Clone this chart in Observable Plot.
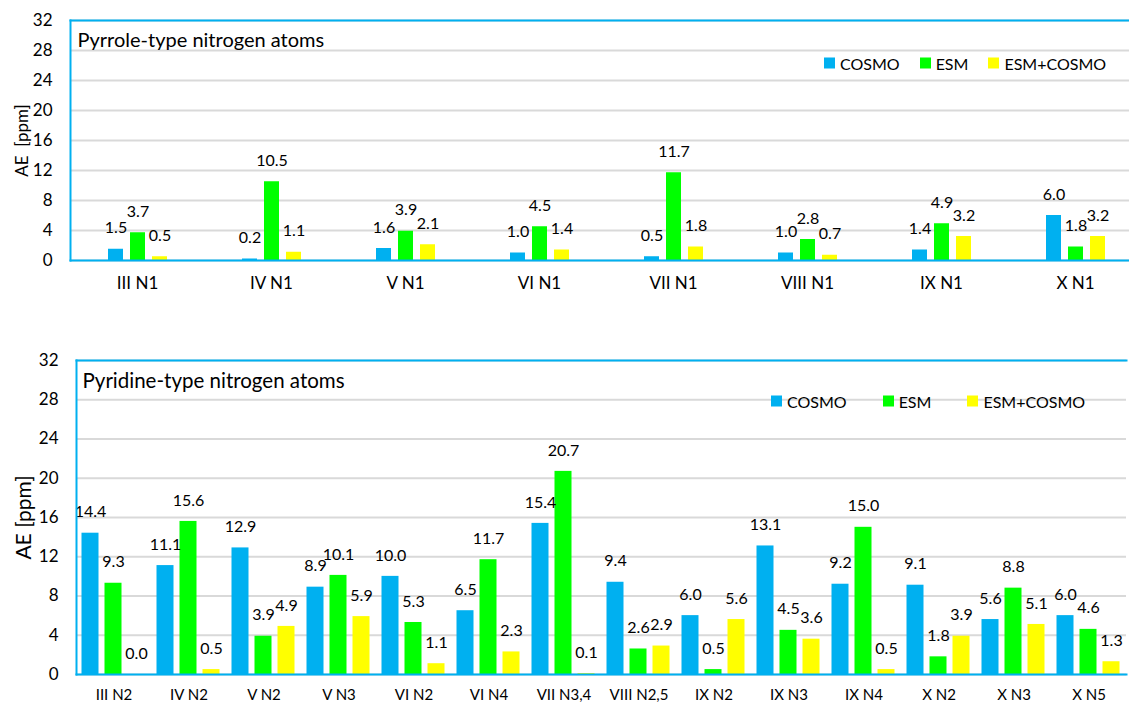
<!DOCTYPE html>
<html>
<head>
<meta charset="utf-8">
<script src="https://cdn.jsdelivr.net/npm/d3@7"></script>
<script src="https://cdn.jsdelivr.net/npm/@observablehq/plot@0.6"></script>
<style>
  html, body { margin: 0; padding: 0; background: #fff; overflow: hidden; }
  body { width: 1129px; height: 702px; position: relative; font-family: Lato, sans-serif; }
  .panel { position: absolute; left: 0; width: 1129px; }
  .legend { position: absolute; display: flex; align-items: center; font: 16px Lato, sans-serif; color: #000; transform: translateY(-50%); }
  .legend .item { display: flex; align-items: center; }
  .legend .sw { width: 11px; height: 11px; display: inline-block; margin-right: 5px; }
</style>
</head>
<body>
<div id="pyrrole" class="panel" style="top:0"></div>
<div id="pyridine" class="panel" style="top:340px"></div>
<script>
// Methods compared and their bar colours
const series = ["COSMO", "ESM", "ESM+COSMO"];
const seriesColors = ["#00b0f0", "#00ff00", "#ffff00"];
const yTicks = [0, 4, 8, 12, 16, 20, 24, 28, 32];
const frameBlue = "#00b0f0";

// Pyrrole-type nitrogen atoms: absolute error (ppm)
const pyrroleSites = ["III N1", "IV N1", "V N1", "VI N1", "VII N1", "VIII N1", "IX N1", "X N1"];
const pyrroleCosmo = [1.5, 0.2, 1.6, 1.0, 0.5, 1.0, 1.4, 6.0];
const pyrroleEsm = [3.7, 10.5, 3.9, 4.5, 11.7, 2.8, 4.9, 1.8];
const pyrroleEsmCosmo = [0.5, 1.1, 2.1, 1.4, 1.8, 0.7, 3.2, 3.2];

// Pyridine-type nitrogen atoms: absolute error (ppm)
const pyridineSites = ["III N2", "IV N2", "V N2", "V N3", "VI N2", "VI N4", "VII N3,4", "VIII N2,5", "IX N2", "IX N3", "IX N4", "X N2", "X N3", "X N5"];
const pyridineCosmo = [14.4, 11.1, 12.9, 8.9, 10.0, 6.5, 15.4, 9.4, 6.0, 13.1, 9.2, 9.1, 5.6, 6.0];
const pyridineEsm = [9.3, 15.6, 3.9, 10.1, 5.3, 11.7, 20.7, 2.6, 0.5, 4.5, 15.0, 1.8, 8.8, 4.6];
const pyridineEsmCosmo = [0.0, 0.5, 4.9, 5.9, 1.1, 2.3, 0.1, 2.9, 5.6, 3.6, 0.5, 3.9, 5.1, 1.3];

function panel(cfg) {
  const rows = cfg.sites.flatMap((site, i) =>
    series.map((s, j) => ({site, series: s, value: cfg.values[j][i]})));
  return Plot.plot({
    width: 1129,
    height: cfg.height,
    marginTop: 20,
    marginBottom: cfg.marginBottom,
    marginLeft: cfg.marginLeft,
    marginRight: cfg.marginRight,
    style: {fontFamily: "Lato, sans-serif", color: "#000", background: "transparent"},
    fx: {domain: cfg.sites, padding: 0},
    x: {domain: series, paddingInner: cfg.inner[0], paddingOuter: cfg.inner[1], axis: null},
    y: {domain: [0, 32]},
    color: {domain: series, range: seriesColors},
    marks: [
      Plot.gridY(yTicks, {stroke: "#d9d9d9", strokeOpacity: 1, strokeWidth: 2}),
      Plot.barY(rows, {fx: "site", x: "series", y: "value", fill: "series"}),
      Plot.text(rows, {
        fx: "site", x: "series", y: "value",
        text: d => d.value.toFixed(1),
        dy: -21, lineAnchor: "middle", fontSize: 16, fill: "#000"
      }),
      Plot.frame({anchor: "top", facet: "super", stroke: frameBlue, strokeWidth: 2}),
      Plot.frame({anchor: "left", facet: "super", stroke: frameBlue, strokeWidth: 2}),
      Plot.frame({anchor: "bottom", facet: "super", stroke: frameBlue, strokeWidth: 2}),
      Plot.axisY(yTicks, {tickSize: 0, tickPadding: 18, fontSize: 17, label: null}),
      Plot.axisFx({anchor: "bottom", tickSize: 0, tickPadding: cfg.sitePadding, fontSize: cfg.siteFont, label: null}),
      Plot.text([cfg.title], {
        frameAnchor: "top-left", facet: "super", dx: cfg.titleDx, dy: cfg.titleDy,
        textAnchor: "start", lineAnchor: "middle", fontSize: cfg.titleFont, fill: "#000"
      }),
      Plot.text([cfg.yLabel], {
        frameAnchor: "left", facet: "super", rotate: -90, dx: cfg.yLabelDx,
        textAnchor: "middle", lineAnchor: "middle", fontSize: cfg.yLabelFont, fill: "#000"
      })
    ]
  });
}

function legend(left, y, gap) {
  const div = document.createElement("div");
  div.className = "legend";
  div.style.left = left + "px";
  div.style.top = y + "px";
  series.forEach((s, i) => {
    const item = document.createElement("span");
    item.className = "item";
    if (i < series.length - 1) item.style.marginRight = gap + "px";
    const sw = document.createElement("span");
    sw.className = "sw";
    sw.style.background = seriesColors[i];
    item.appendChild(sw);
    item.appendChild(document.createTextNode(s));
    div.appendChild(item);
  });
  return div;
}

const pyrrolePanel = document.getElementById("pyrrole");
pyrrolePanel.appendChild(panel({
  sites: pyrroleSites,
  values: [pyrroleCosmo, pyrroleEsm, pyrroleEsmCosmo],
  title: "Pyrrole-type nitrogen atoms",
  yLabel: "AE  [ppm]",
  height: 340, marginBottom: 80, marginLeft: 70, marginRight: -13,
  inner: [0.336, 1.633],
  siteFont: 17, sitePadding: 16,
  titleFont: 20, titleDx: 7, titleDy: 20,
  yLabelFont: 17, yLabelDx: -48
}));
pyrrolePanel.appendChild(legend(824, 63, 20));

const pyridinePanel = document.getElementById("pyridine");
pyridinePanel.appendChild(panel({
  sites: pyridineSites,
  values: [pyridineCosmo, pyridineEsm, pyridineEsmCosmo],
  title: "Pyridine-type nitrogen atoms",
  yLabel: "AE [ppm]",
  height: 362, marginBottom: 28, marginLeft: 72.5, marginRight: 0,
  inner: [0.244, 0.207],
  siteFont: 15, sitePadding: 15,
  titleFont: 20.5, titleDx: 6, titleDy: 21,
  yLabelFont: 21, yLabelDx: -52.5
}));
pyridinePanel.appendChild(legend(771, 61, 36));
</script>
</body>
</html>
